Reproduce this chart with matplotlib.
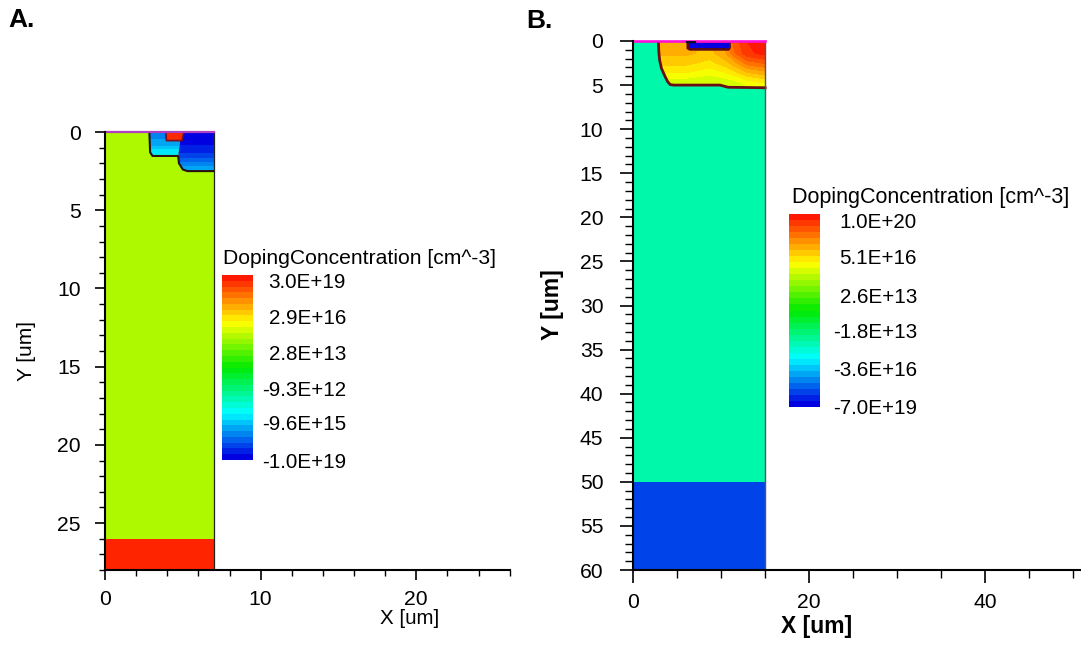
import numpy as np
import matplotlib
matplotlib.use("Agg")
import matplotlib.pyplot as plt
from matplotlib.colors import LinearSegmentedColormap, Normalize
from matplotlib.cm import ScalarMappable
from matplotlib.patches import Polygon

plt.rcParams['font.family'] = ['Liberation Sans', 'DejaVu Sans']

W, H = 1081, 645

# ---- data -----------------------------------------------------------------
a_cbar_labels = ["3.0E+19", "2.9E+16", "2.8E+13", "-9.3E+12", "-9.6E+15", "-1.0E+19"]
b_cbar_labels = ["1.0E+20", "5.1E+16", "2.6E+13", "-1.8E+13", "-3.6E+16", "-7.0E+19"]

# normalised position on the colour scale (0 = most negative, 1 = most positive)
a_body = 0.67
a_backside = 0.985
a_emitter = 0.98
b_body = 0.335
b_backside = 0.07
b_source = 0.0

# Panel A: wells, one column of doping per depth
a_shallow_x = [2.85, 4.7, 5.1]
a_shallow_y = [0.0, 0.4, 0.9, 1.2, 1.55]
a_shallow_v = [0.13, 0.15, 0.19, 0.23, 0.26]
a_shallow_poly = [(2.85, 0), (2.9, 1.3), (3.05, 1.53), (4.7, 1.53), (4.9, 0)]

a_deep_x = [4.7, 7.0]
a_deep_y = [0.0, 0.6, 1.5, 2.1, 2.55]
a_deep_v = [0.0, 0.02, 0.07, 0.15, 0.2]
a_deep_poly = [(4.9, 0), (4.7, 1.53), (4.75, 2.0), (5.0, 2.4), (5.3, 2.5), (7, 2.5), (7, 0)]

a_emitter_poly = [(3.95, 0), (4.0, 0.52), (4.95, 0.52), (5.05, 0)]
a_junction_x = [2.85, 2.9, 3.05, 4.7, 4.75, 5.0, 5.3, 7.0]
a_junction_y = [0.05, 1.3, 1.53, 1.53, 2.0, 2.4, 2.5, 2.5]
a_emitter_line_x = [3.9, 3.95, 4.95, 5.05]
a_emitter_line_y = [0.05, 0.55, 0.55, 0.05]

# Panel B: diffused region, doping over (depth, x)
b_diff_x = [2.0, 4.0, 6.0, 8.7, 10.5, 11.5, 13.0, 15.0]
b_diff_y = [0.0, 1.4, 2.5, 3.6, 4.6, 5.5]
b_diff_v = [
    [0.82, 0.82, 0.82, 0.81, 0.86, 0.92, 0.97, 1.00],
    [0.82, 0.82, 0.82, 0.80, 0.84, 0.90, 0.96, 0.98],
    [0.79, 0.79, 0.79, 0.77, 0.80, 0.83, 0.89, 0.91],
    [0.75, 0.75, 0.75, 0.73, 0.75, 0.77, 0.81, 0.83],
    [0.70, 0.70, 0.70, 0.69, 0.70, 0.71, 0.74, 0.76],
    [0.68, 0.68, 0.68, 0.68, 0.68, 0.69, 0.70, 0.71],
]
b_junction_x = [2.85, 2.9, 3.0, 3.2, 3.6, 3.9, 4.2, 4.6, 9.85, 10.8, 15.0]
b_junction_y = [0.05, 1.2, 2.2, 3.1, 4.0, 4.6, 4.95, 5.0, 5.0, 5.25, 5.3]
b_diff_poly = list(zip(b_junction_x, b_junction_y)) + [(15, 0), (2.85, 0)]
b_ring_poly = [(6.05, 0), (6.05, 0.9), (6.4, 1.1), (10.9, 1.1), (11.1, 0.8), (11.1, 0)]
b_source_poly = [(6.5, 0.25), (6.5, 0.85), (10.85, 0.85), (10.85, 0.25)]

# ---- helpers ----------------------------------------------------------------
stops = [(0.0, (0, 0, 225)), (0.25, (0, 255, 255)), (0.5, (0, 235, 0)),
         (0.75, (255, 255, 0)), (1.0, (255, 25, 0))]
stops = [(p, tuple(c / 255 for c in col)) for p, col in stops]
cmap_full = LinearSegmentedColormap.from_list("doping", stops, N=256)
cmap_band = LinearSegmentedColormap.from_list("doping32", stops, N=32)
levels = np.linspace(0, 1, 33)


def px_axes(left, top, right, bottom):
    return fig.add_axes([left / W, 1 - bottom / H, (right - left) / W, (bottom - top) / H])


def fig_text(x, y, s, **kw):
    fig.text(x / W, 1 - y / H, s, **kw)


def banded(ax, x, y, z, poly):
    patch = Polygon(poly, closed=True, transform=ax.transData, fill=False, lw=0)
    ax.add_patch(patch)
    cs = ax.contourf(x, y, z, levels=levels, cmap=cmap_band, zorder=2, extend='both')
    cs.set_clip_path(patch)


def style(ax, xmaj, xmin, ymaj, ymin, majlen, minlen, pad_x, pad_y):
    for s in ('top', 'right'):
        ax.spines[s].set_visible(False)
    for s in ('left', 'bottom'):
        ax.spines[s].set_linewidth(1.5)
        ax.spines[s].set_zorder(6)
    ax.set_xticks(xmaj)
    ax.set_xticks(xmin, minor=True)
    ax.set_yticks(ymaj)
    ax.set_yticks(ymin, minor=True)
    ax.tick_params(which='major', length=majlen, width=1.2, labelsize=15.2)
    ax.tick_params(which='minor', length=minlen, width=1.0)
    ax.tick_params(axis='x', which='major', pad=pad_x)
    ax.tick_params(axis='y', which='major', pad=pad_y)


fig = plt.figure(figsize=(W / 100, H / 100), dpi=100, facecolor='white')

# ---- Panel A ----------------------------------------------------------------
ax = px_axes(105, 132, 509.7, 570)
ax.set_xlim(0, 26)
ax.set_ylim(28, 0)
ax.fill_between([0, 7], 0, 26, color=cmap_full(a_body), lw=0, zorder=1)
ax.fill_between([0, 7], 26, 28, color=cmap_full(a_backside), lw=0, zorder=1)
banded(ax, a_shallow_x, a_shallow_y, np.tile(a_shallow_v, (3, 1)).T, a_shallow_poly)
banded(ax, a_deep_x, a_deep_y, np.tile(a_deep_v, (2, 1)).T, a_deep_poly)
ax.add_patch(Polygon(a_emitter_poly, closed=True, color=cmap_full(a_emitter), lw=0, zorder=3))
ax.plot(a_junction_x, a_junction_y, color='#2a1012', lw=1.5, zorder=4)
ax.plot(a_emitter_line_x, a_emitter_line_y, color='#7a1020', lw=1.3, zorder=4)
ax.plot([7, 7], [0, 28], color='#222222', lw=0.9, zorder=4)
ax.plot([0, 7], [0, 0], color='#b040c0', lw=1.6, zorder=5, clip_on=False)
style(ax, [0, 10, 20], np.arange(0, 27, 2), [0, 5, 10, 15, 20, 25], np.arange(0, 29, 1),
      7.4, 4.6, 7, 10)
fig_text(410, 618, "X [um]", fontsize=14.8, ha='center', va='center')
fig_text(27, 351, "Y [um]", fontsize=15, ha='center', va='center', rotation=90)

cax = px_axes(222, 275, 252.5, 460)
fig.colorbar(ScalarMappable(Normalize(0, 1), cmap_band), cax=cax, ticks=[]).outline.set_visible(False)
fig_text(223, 259, "DopingConcentration [cm^-3]", fontsize=15.2, ha='left', va='center')
for lab, yp in zip(a_cbar_labels, [283, 319, 354, 390, 425, 462]):
    fig_text(346, yp, lab, fontsize=14.9, ha='right', va='center')
fig_text(8, 20, "A.", fontsize=19, fontweight='bold', ha='left', va='center')

# ---- Panel B ----------------------------------------------------------------
ax = px_axes(633.3, 41, 1081, 570)
ax.set_xlim(0, 50.92)
ax.set_ylim(60, 0)
ax.fill_between([0, 15], 0, 50, color=cmap_full(b_body), lw=0, zorder=1)
ax.fill_between([0, 15], 50, 60, color=cmap_full(b_backside), lw=0, zorder=1)
banded(ax, b_diff_x, b_diff_y, np.array(b_diff_v), b_diff_poly)
ax.add_patch(Polygon(b_ring_poly, closed=True, color='#5c0a18', lw=0, zorder=3))
ax.add_patch(Polygon(b_source_poly, closed=True, color=cmap_full(b_source), lw=0, zorder=3))
ax.plot(b_junction_x, b_junction_y, color='#6a0f14', lw=2.0, zorder=4)
ax.plot([15, 15], [0, 60], color='#555566', lw=1.0, zorder=4)
ax.plot([0, 15], [0, 0], color='#ff10d8', lw=1.9, zorder=5, clip_on=False)
ax.plot([6.1, 7.0], [0.1, 0.1], color='#101020', lw=1.6, zorder=5)
style(ax, [0, 20, 40], np.arange(0, 51, 5), np.arange(0, 61, 5), np.arange(0, 61, 1),
      9.6, 5.8, 7, 12)
fig_text(817, 627, "X [um]", fontsize=16.5, fontweight='bold', ha='center', va='center')
fig_text(552, 305, "Y [um]", fontsize=16.5, fontweight='bold', ha='center', va='center', rotation=90)

cax = px_axes(789, 214, 820, 407)
fig.colorbar(ScalarMappable(Normalize(0, 1), cmap_band), cax=cax, ticks=[]).outline.set_visible(False)
fig_text(792, 198, "DopingConcentration [cm^-3]", fontsize=15.5, ha='left', va='center')
for lab, yp in zip(b_cbar_labels, [222, 259, 297, 333, 371, 408]):
    fig_text(917, yp, lab, fontsize=14.9, ha='right', va='center')
fig_text(526, 21, "B.", fontsize=19, fontweight='bold', ha='left', va='center')

fig.savefig("out.png", dpi=100)
